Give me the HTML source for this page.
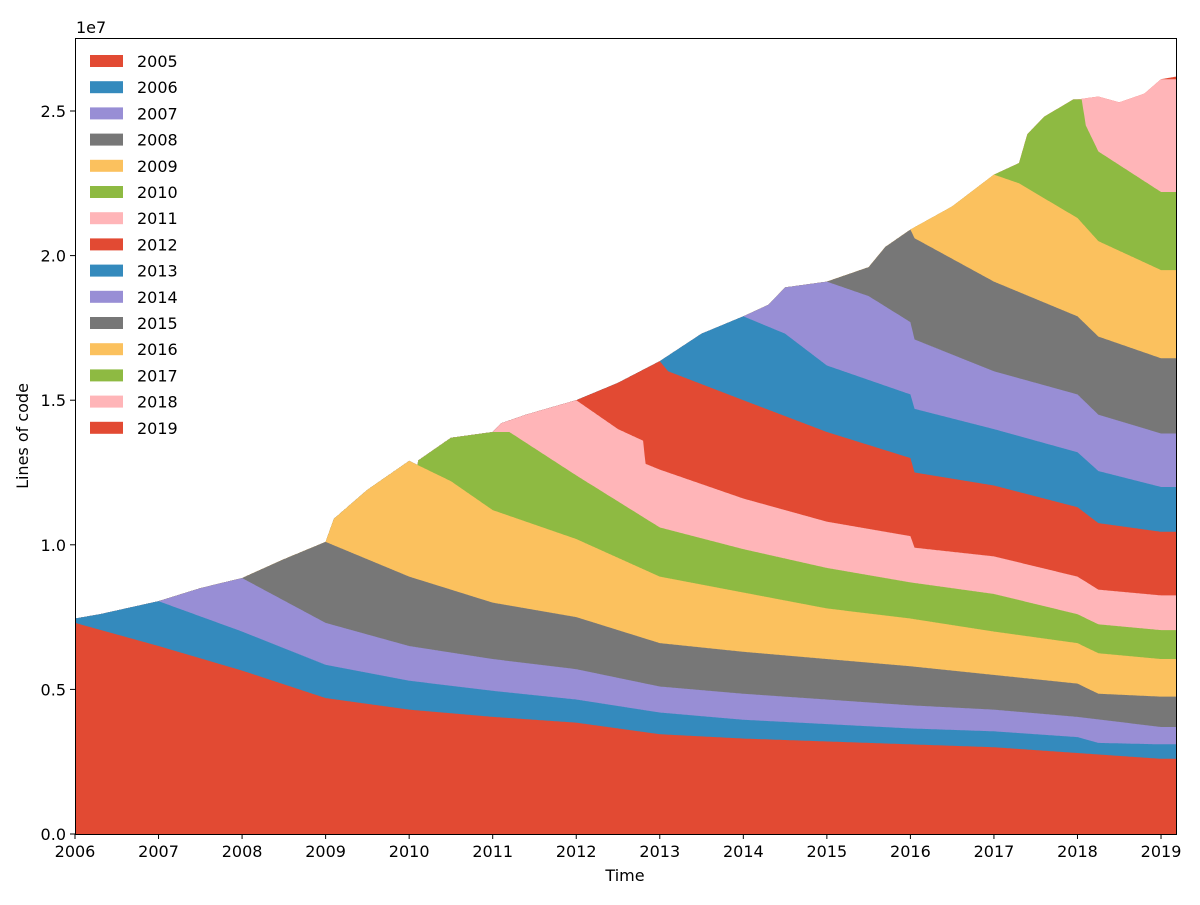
<!DOCTYPE html>
<html><head><meta charset="utf-8"><style>
html,body{margin:0;padding:0;background:#fff;}
svg text{font-family:"DejaVu Sans","Liberation Sans",sans-serif;font-size:16px;fill:#000;}
</style></head><body>
<script>
(function(){
const X0=75,PY=83.54,Y0=834,PV=28.92;
const px=t=>X0+(t-2006)*PY, py=v=>Y0-v*PV;
const cols=["#E24A33","#348ABD","#988ED5","#777777","#FBC15E","#8EBA42","#FFB5B8"];
const L=[
[[2006,7.3],[2007,6.5],[2008,5.65],[2009,4.7],[2010,4.3],[2011,4.05],[2012,3.85],[2013,3.45],[2014,3.3],[2015,3.2],[2016,3.1],[2017,3.0],[2018,2.8],[2019,2.6],[2019.2,2.6]],
[[2006,7.45],[2006.3,7.6],[2007,8.05],[2008,7.0],[2009,5.85],[2010,5.3],[2011,4.95],[2012,4.65],[2013,4.2],[2014,3.95],[2015,3.8],[2016,3.65],[2017,3.55],[2018,3.35],[2018.25,3.15],[2019,3.1],[2019.2,3.1]],
[[2007,8.05],[2007.5,8.5],[2008,8.85],[2009,7.3],[2010,6.5],[2011,6.05],[2012,5.7],[2013,5.1],[2014,4.85],[2015,4.65],[2016,4.45],[2017,4.3],[2018,4.05],[2019,3.7],[2019.2,3.7]],
[[2008,8.85],[2008.5,9.5],[2009,10.1],[2010,8.9],[2011,8.0],[2012,7.5],[2013,6.6],[2014,6.3],[2015,6.05],[2016,5.8],[2017,5.5],[2018,5.2],[2018.25,4.85],[2019,4.75],[2019.2,4.75]],
[[2009,10.1],[2009.1,10.9],[2009.5,11.9],[2010,12.9],[2010.5,12.2],[2011,11.2],[2012,10.2],[2013,8.9],[2014,8.35],[2015,7.8],[2016,7.45],[2017,7.0],[2018,6.6],[2018.25,6.25],[2019,6.05],[2019.2,6.05]],
[[2010.1,12.9],[2010.5,13.7],[2011,13.9],[2011.2,13.9],[2012,12.4],[2013,10.6],[2014,9.85],[2015,9.2],[2016,8.7],[2017,8.3],[2018,7.6],[2018.25,7.25],[2019,7.05],[2019.2,7.05]],
[[2011,13.9],[2011.1,14.2],[2011.4,14.5],[2012,15.0],[2012.5,14.0],[2012.8,13.6],[2012.83,12.8],[2013,12.6],[2014,11.6],[2015,10.8],[2016,10.3],[2016.05,9.9],[2017,9.6],[2018,8.9],[2018.25,8.45],[2019,8.25],[2019.2,8.25]],
[[2012,15.0],[2012.5,15.6],[2013,16.35],[2013.1,16.0],[2014,15.0],[2015,13.9],[2016,13.0],[2016.05,12.5],[2017,12.05],[2018,11.3],[2018.25,10.75],[2019,10.45],[2019.2,10.45]],
[[2013,16.35],[2013.5,17.3],[2014,17.9],[2014.5,17.3],[2015,16.2],[2016,15.2],[2016.05,14.7],[2017,14.0],[2018,13.2],[2018.25,12.55],[2019,12.0],[2019.2,12.0]],
[[2014,17.9],[2014.3,18.3],[2014.5,18.9],[2015,19.1],[2015.5,18.6],[2016,17.7],[2016.05,17.1],[2017,16.0],[2018,15.2],[2018.25,14.5],[2019,13.85],[2019.2,13.85]],
[[2015,19.1],[2015.5,19.6],[2015.7,20.3],[2016,20.9],[2016.05,20.6],[2017,19.1],[2018,17.9],[2018.25,17.2],[2019,16.45],[2019.2,16.45]],
[[2016,20.9],[2016.5,21.7],[2017,22.8],[2017.3,22.5],[2018,21.3],[2018.25,20.5],[2019,19.5],[2019.2,19.5]],
[[2017,22.8],[2017.3,23.2],[2017.4,24.2],[2017.6,24.8],[2017.95,25.4],[2018.05,25.4],[2018.1,24.5],[2018.25,23.6],[2019,22.2],[2019.2,22.2]],
[[2018,25.4],[2018.25,25.5],[2018.5,25.3],[2018.8,25.6],[2019,26.1],[2019.2,26.1]],
[[2019,26.1],[2019.2,26.2]]
];
function interp(a,t){if(t<a[0][0])return null;for(let i=1;i<a.length;i++){if(t<=a[i][0]){const p=a[i-1],q=a[i];return p[1]+(q[1]-p[1])*(t-p[0])/(q[0]-p[0]);}}return a[a.length-1][1];}
function stackTop(k,t){const v=interp(L[k],t);const pr=k>0?stackTop(k-1,t):0;if(v===null)return pr;return Math.max(v,pr);}
const tEnd=2006+(1176-75)/PY;
let s='<svg width="1200" height="900" xmlns="http://www.w3.org/2000/svg"><rect width="1200" height="900" fill="#fff"/>';
for(let k=L.length-1;k>=0;k--){
 let d="M"+px(2006)+","+Y0;
 for(let t=2006;t<=tEnd+0.001;t+=0.01){d+="L"+px(t).toFixed(1)+","+py(stackTop(k,t)).toFixed(1);}
 d+="L1176,"+Y0+"Z";
 s+='<path d="'+d+'" fill="'+cols[k%7]+'"/>';
}
s+='<rect x="75.5" y="38.5" width="1101" height="796" fill="none" stroke="#000" stroke-width="1"/>';
for(let y=2006;y<=2019;y++){const x=px(y);s+='<line x1="'+x+'" y1="834" x2="'+x+'" y2="839" stroke="#000"/><text x="'+x+'" y="857" text-anchor="middle">'+y+'</text>';}
for(let i=0;i<=5;i++){const v=i*0.5,y=py(v*10);s+='<line x1="70" y1="'+y+'" x2="75" y2="'+y+'" stroke="#000"/><text x="66" y="'+(y+6)+'" text-anchor="end">'+v.toFixed(1)+'</text>';}
s+='<text x="76" y="33">1e7</text><text x="625" y="881" text-anchor="middle">Time</text><text transform="translate(28,436) rotate(-90)" text-anchor="middle">Lines of code</text>';
for(let i=0;i<15;i++){const y=61+i*26.2;s+='<rect x="90" y="'+(y-6)+'" width="33" height="12" fill="'+cols[i%7]+'"/><text x="137" y="'+(y+6)+'">'+(2005+i)+'</text>';}
s+='</svg>';
document.body.innerHTML=s;
})();
</script>
</body></html>
